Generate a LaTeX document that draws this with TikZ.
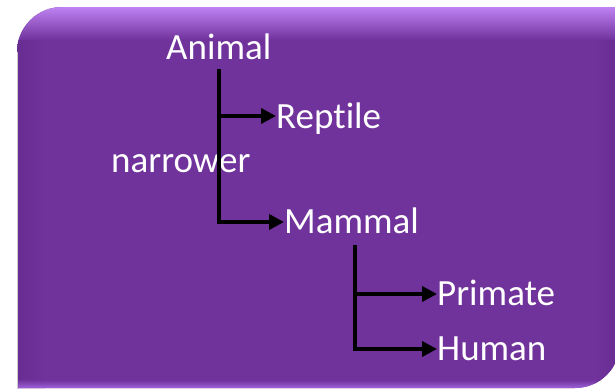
\documentclass[tikz,border=0pt]{standalone}
\usepackage{fontspec}
\setmainfont{Carlito}[Ligatures=NoCommon]
\usetikzlibrary{arrows.meta}
\definecolor{boxpurple}{RGB}{112,50,155}
\definecolor{boxlight}{RGB}{190,130,242}
\definecolor{boxedge}{RGB}{165,105,225}
\definecolor{boxdark}{RGB}{104,44,146}
\tikzset{
  lbl/.style={text=white, inner sep=0pt, font=\fontsize{37}{40}\selectfont},
  conn/.style={line width=3.6pt, black},
  arr/.style={conn, -{Triangle[length=15pt,width=15pt]}}
}
\begin{document}
\begin{tikzpicture}[x=1pt,y=-1pt]
\useasboundingbox (0,0) rectangle (615,389);
\fill[white] (0,0) rectangle (615,389);
% rounded diagonal-corner box
\def\boxpath{(17,389) -- (17,52) arc[start angle=180,end angle=270,radius=45] -- (620,7) -- (620,343) arc[start angle=0,end angle=90,radius=45] -- (17,388) -- cycle}
\fill[boxpurple] \boxpath;
\begin{scope}
  \clip \boxpath;
  \shade[top color=boxlight,bottom color=boxpurple] (0,7) rectangle (620,40);
  \shade[left color=boxdark,right color=boxpurple] (17,40) rectangle (45,389);
  \shade[left color=boxpurple,right color=boxdark] (595,40) rectangle (620,389);
  \shade[top color=boxpurple,bottom color=boxedge] (0,380) rectangle (620,389);
\end{scope}
\draw[gray!40, line width=0.8pt] (17.4,52) -- (17.4,389);
% texts
\node[lbl, anchor=base west] (animal) at (166,59) {Animal};
\node[lbl, anchor=base west] (reptile) at (276,128) {Reptile};
\node[lbl, anchor=base west] (narrower) at (111,172) {narrower};
\node[lbl, anchor=base west] (mammal) at (284,233) {Mammal};
\node[lbl, anchor=base west] (primate) at (437,305) {Primate};
\node[lbl, anchor=base west] (human) at (437,360) {Human};
% connector points
\coordinate (a1) at (219,69);
\coordinate (a2) at (219,116);
\coordinate (a3) at (219,222);
\coordinate (m1) at (355,245);
\coordinate (m2) at (355,294);
\coordinate (m3) at (355,349);
% connectors
\draw[arr] (a1) -- (a3) -- (mammal.west |- a3);
\draw[arr] (a2) -- (reptile.west |- a2);
\draw[arr] (m1) -- (m3) -- (human.west |- m3);
\draw[arr] (m2) -- (primate.west |- m2);
\end{tikzpicture}
\end{document}
